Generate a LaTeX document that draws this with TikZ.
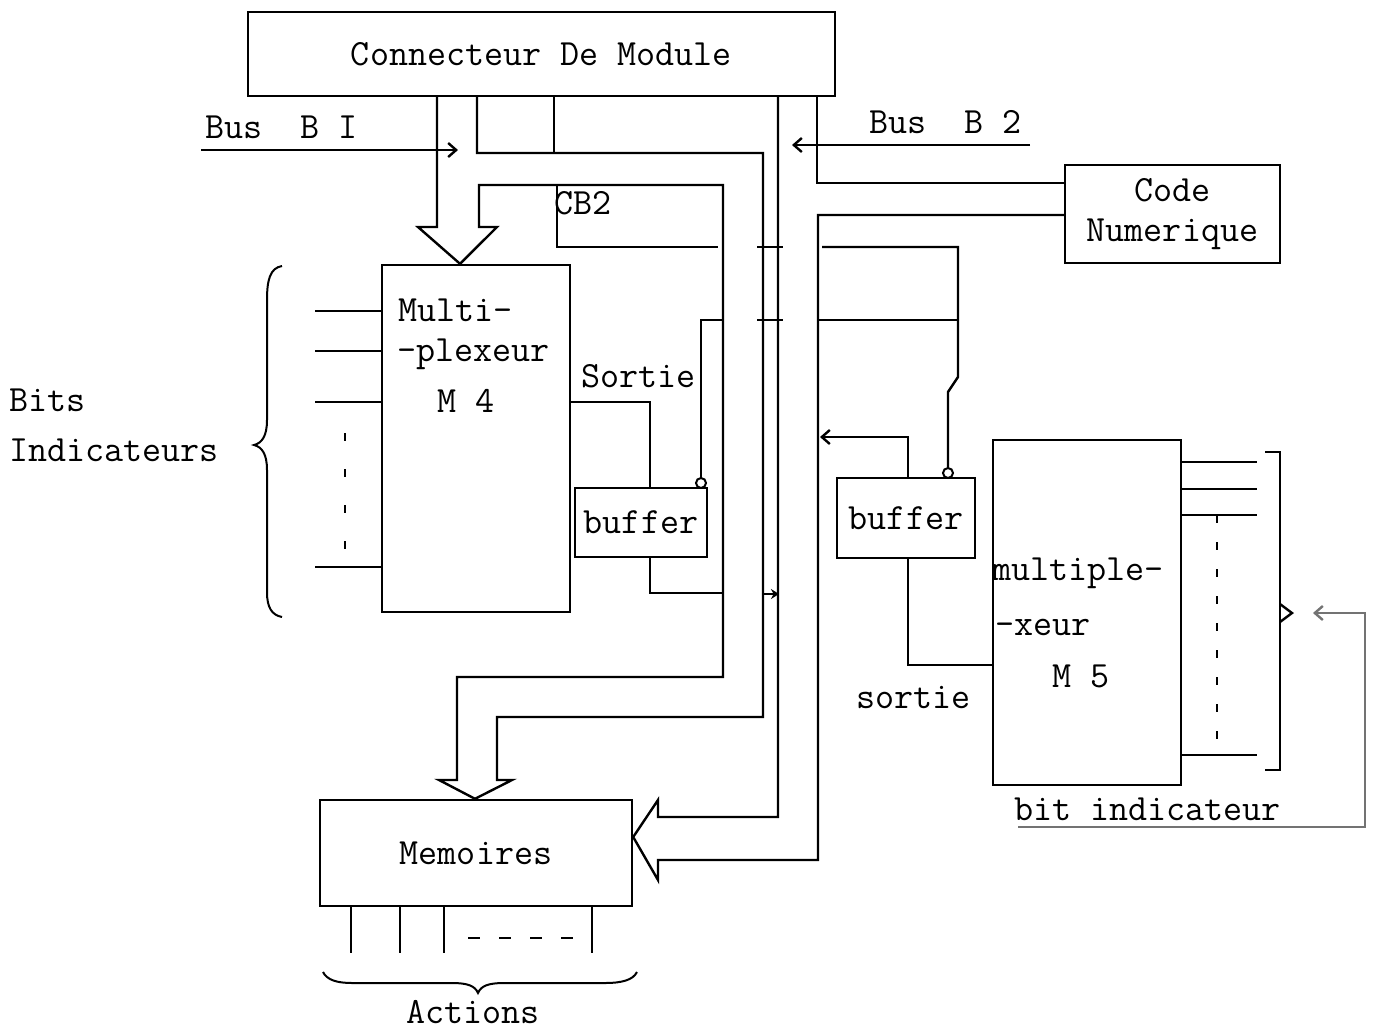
\documentclass[tikz,border=0pt]{standalone}
\usepackage{fontspec}
\usetikzlibrary{arrows.meta}
\newcommand\twfont{\fontsize{18.5pt}{22pt}\selectfont\ttfamily}
\begin{document}
\begin{tikzpicture}[x=0.5pt,y=-0.5pt,line width=1.2pt,line join=miter,
  box/.style={draw,rectangle,inner sep=0pt,font=\twfont,align=center},
  txt/.style={inner sep=0pt,font=\twfont},
  bubble/.style={draw,circle,inner sep=0pt,minimum size=5pt,line width=1pt},
  busarrow/.style={-{Straight Barb[length=4pt,width=7pt]}},
  smallarrow/.style={-{Stealth[length=4pt,width=5pt]}},
  fb/.style={black!55}]
\useasboundingbox (0,0) rectangle (1378,1030);

% ---------- boxes ----------
\node[box,minimum width=293.5pt,minimum height=42pt] (conn) at (541.5,54) {Connecteur De Module};
\node[box,minimum width=107.5pt,minimum height=49pt] (code) at (1172.5,214) {Code\\[-2pt]Numerique};
\node[box,minimum width=94pt,minimum height=173.5pt] (mfour) at (476,438.5) {};
\node[box,minimum width=66pt,minimum height=34.5pt] (bufL) at (641,522.5) {buffer};
\node[box,minimum width=69pt,minimum height=40pt] (bufR) at (906,518) {buffer};
\node[box,minimum width=94pt,minimum height=172.5pt] (mfive) at (1087,612.5) {};
\node[box,minimum width=156pt,minimum height=53pt] (mem) at (476,853) {Memoires};
\node[bubble] (bubL) at (701,483) {};
\node[bubble] (bubR) at (948,473) {};

% ---------- texts ----------
\node[txt,anchor=base west] (tbus1) at (204,138) {Bus\ \ B I};
\node[txt,anchor=base west] (tbus2) at (868,133) {Bus\ \ B 2};
\node[txt,anchor=base west] (tcb2) at (553,214) {CB2};
\node[txt,anchor=base west] (tmulti) at (397,321) {Multi-};
\node[txt,anchor=base west] (tplex) at (396,361) {-plexeur};
\node[txt,anchor=base west] (tmfour) at (436,412) {M 4};
\node[txt,anchor=base west] (tsortie) at (580,387) {Sortie};
\node[txt,anchor=base west] (tmultiple) at (991,580) {multiple-};
\node[txt,anchor=base west] (txeur) at (994,635) {-xeur};
\node[txt,anchor=base west] (tmfive) at (1051,687) {M 5};
\node[txt,anchor=base west] (tsortie2) at (855,708) {sortie};
\node[txt,anchor=base west] (tbitind) at (1013,820) {bit indicateur};
\node[txt,anchor=base west] (tbits) at (8,411) {Bits};
\node[txt,anchor=base west] (tindic) at (8,461) {Indicateurs};
\node[txt,anchor=base] (tactions) at (473,1023) {Actions};

% ---------- bus B1 (double line) ----------
\draw (437,0 |- conn.south) -- (437,227) -- (418,227) -- (460,0 |- mfour.north)
  -- (497,227) -- (479,227) -- (479,185) -- (723,185) -- (723,677) -- (457,677)
  -- (457,780) -- (439,780) -- (475,0 |- mem.north) -- (512,780) -- (497,780)
  -- (497,717) -- (763,717) -- (763,153) -- (477,153) -- (477,0 |- conn.south);
\draw (554,0 |- conn.south) -- (554,153);

% ---------- bus B2 (double line) ----------
\draw (778,0 |- conn.south) -- (778,817) -- (658,817) -- (658,800)
  -- (mem.east |- 0,837) -- (658,880) -- (658,860) -- (818,860) -- (818,215)
  -- (code.west |- 0,215);
\draw (817,0 |- conn.south) -- (817,183) -- (code.west |- 0,183);

% ---------- bus arrows ----------
\draw[busarrow] (201,150) -- (458,150);
\draw[busarrow] (1030,145) -- (792,145);

% ---------- CB2 control to buffers ----------
\draw (557,185) -- (557,247) -- (718,247);
\draw (757,247) -- (783,247);
\draw (822,247) -- (958,247) -- (958,377) -- (948,392) -- (bubR.north);
\draw (bubL.north) -- (701,320) -- (723,320);
\draw (757,320) -- (783,320);
\draw (818,320) -- (958,320);

% ---------- M4 side ----------
\draw (mfour.east |- 0,402) -- (650,402) -- (650,0 |- bufL.north);
\draw (650,0 |- bufL.south) -- (650,593) -- (723,593);
\draw[smallarrow] (764,594) -- (779,594);
\foreach \y in {311,351,402,567} \draw (315,\y) -- (mfour.west |- 0,\y);
\draw[dash pattern=on 4pt off 14pt] (345,433) -- (345,552);
\draw[line width=1pt] (282,266) .. controls (270,268) and (267,280) .. (267,300)
  -- (267,420) .. controls (267,436) and (262,443) .. (254,445)
  .. controls (262,447) and (267,454) .. (267,470) -- (267,592)
  .. controls (267,608) and (272,615) .. (282,617);

% ---------- M5 side ----------
\draw[busarrow] (908,0 |- bufR.north) -- (908,437) -- (820,437);
\draw (908,0 |- bufR.south) -- (908,665) -- (mfive.west |- 0,665);
\foreach \y in {462,489,515,755} \draw (mfive.east |- 0,\y) -- (1257,\y);
\draw[dash pattern=on 4pt off 9.5pt] (1217,515) -- (1217,755);
\draw (1265,452) -- (1280,452) -- (1280,770) -- (1265,770);
\draw (1280,604) -- (1292,613) -- (1280,622);
\draw[fb,busarrow] (1018,827) -- (1365,827) -- (1365,613) -- (1313,613);

% ---------- Memoires outputs ----------
\foreach \x in {351,400,444,592} \draw (\x,0 |- mem.south) -- (\x,953);
\draw[dash pattern=on 6pt off 9.5pt] (468,938) -- (574,938);
\draw[line width=1pt] (323,972) .. controls (327,980) and (337,983) .. (352,983)
  -- (452,983) .. controls (468,983) and (475,986) .. (478,993)
  .. controls (481,986) and (488,983) .. (504,983) -- (605,983)
  .. controls (622,983) and (633,980) .. (637,972);
\end{tikzpicture}
\end{document}
